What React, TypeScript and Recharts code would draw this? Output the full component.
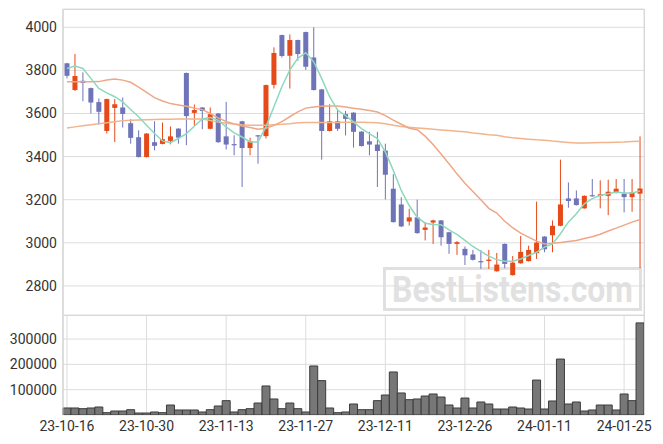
import React from 'react';
import { ComposedChart, Bar, Line, XAxis, YAxis, CartesianGrid } from 'recharts';

const dates = ["23-10-16","23-10-17","23-10-18","23-10-19","23-10-20","23-10-23","23-10-24","23-10-25","23-10-26","23-10-27","23-10-30","23-10-31","23-11-01","23-11-02","23-11-03","23-11-06","23-11-07","23-11-08","23-11-09","23-11-10","23-11-13","23-11-14","23-11-15","23-11-16","23-11-17","23-11-20","23-11-21","23-11-22","23-11-23","23-11-24","23-11-27","23-11-28","23-11-29","23-11-30","23-12-01","23-12-04","23-12-05","23-12-06","23-12-07","23-12-08","23-12-11","23-12-12","23-12-13","23-12-14","23-12-15","23-12-18","23-12-19","23-12-20","23-12-21","23-12-22","23-12-26","23-12-27","23-12-28","24-01-02","24-01-03","24-01-04","24-01-05","24-01-08","24-01-09","24-01-10","24-01-11","24-01-12","24-01-15","24-01-16","24-01-17","24-01-18","24-01-19","24-01-22","24-01-23","24-01-24","24-01-25","24-01-26","24-01-29"];

const opens = [3833,3709,3752,3718,3653,3519,3626,3628,3555,3490,3398,3467,3459,3473,3530,3788,3603,3628,3529,3600,3494,3458,3564,3440,3499,3495,3733,3964,3868,3941,3978,3860,3712,3519,3564,3597,3604,3516,3471,3456,3428,3251,3178,3099,3118,3060,3094,3104,3049,2995,2972,2946,2915,2916,2868,2995,2850,2905,2915,2952,3029,3035,3079,3206,3206,3160,3221,3217,3218,3231,3228,3212,3228];
const highs = [3835,3876,3791,3720,3670,3669,3667,3674,3574,3522,3509,3564,3558,3540,3532,3790,3642,3630,3628,3602,3654,3499,3566,3488,3500,3734,3907,3966,3967,3943,3980,4000,3714,3643,3619,3612,3606,3518,3515,3515,3460,3318,3212,3158,3200,3096,3107,3106,3051,3008,2983,2967,2967,2967,2953,2997,2939,3032,2987,3191,3031,3104,3386,3280,3243,3220,3296,3290,3293,3296,3296,3296,3494];
const lows = [3763,3705,3657,3600,3549,3507,3468,3535,3460,3396,3396,3429,3457,3457,3460,3453,3544,3527,3527,3464,3433,3406,3259,3406,3367,3484,3716,3860,3716,3845,3802,3707,3386,3517,3519,3498,3442,3447,3406,3259,3201,3094,3073,3080,3042,3011,2995,2987,2949,2944,2897,2918,2879,2879,2866,2882,2848,2903,2913,2925,2956,2956,3077,3163,3173,3158,3215,3160,3128,3229,3141,3144,2882];
const closes = [3775,3774,3742,3651,3608,3667,3643,3598,3487,3398,3507,3450,3481,3494,3488,3588,3616,3612,3597,3467,3456,3454,3440,3470,3496,3732,3881,3867,3941,3876,3817,3709,3519,3564,3529,3575,3515,3449,3456,3426,3316,3096,3076,3118,3045,3071,3104,3026,2995,3003,2942,2921,2912,2922,2899,2902,2908,2958,2967,3001,2970,3079,3178,3194,3175,3218,3217,3225,3237,3251,3212,3234,3252];

const ma5 = [3809,3820,3809,3763,3716,3696,3678,3654,3619,3585,3546,3507,3473,3465,3484,3507,3541,3575,3581,3569,3538,3510,3491,3468,3468,3538,3631,3724,3802,3856,3882,3840,3763,3678,3616,3590,3561,3530,3507,3484,3422,3336,3243,3173,3119,3091,3085,3084,3060,3039,3011,2983,2960,2938,2922,2915,2915,2925,2941,2956,2980,2995,3042,3096,3135,3181,3205,3220,3228,3236,3231,3231,3240];
const ma20 = [3747,3747,3747,3747,3748,3755,3760,3755,3745,3722,3698,3674,3658,3646,3640,3634,3625,3618,3600,3580,3563,3552,3542,3535,3527,3532,3545,3562,3585,3608,3625,3630,3634,3635,3635,3630,3624,3620,3614,3607,3590,3569,3550,3532,3525,3495,3456,3412,3367,3320,3276,3238,3200,3160,3138,3100,3070,3045,3026,3008,2995,2998,3001,3006,3011,3020,3028,3040,3055,3068,3082,3096,3108];
const ma60 = [3533,3538,3543,3548,3553,3557,3562,3567,3569,3570,3571,3572,3573,3573,3574,3574,3575,3575,3568,3560,3555,3551,3548,3546,3546,3546,3548,3550,3553,3557,3558,3558,3558,3558,3558,3559,3559,3559,3558,3557,3552,3546,3540,3536,3533,3530,3527,3524,3521,3518,3515,3510,3506,3502,3499,3492,3487,3484,3481,3478,3476,3472,3469,3466,3463,3463,3464,3465,3466,3467,3468,3470,3471];
const volumes = [27700,27700,25000,27700,31600,9200,15800,15800,21000,7900,7900,11900,9200,39500,19800,19800,19800,11900,21000,35600,56700,11900,21000,25000,47400,114700,63300,25000,47400,25000,11900,193700,135800,27700,9200,11900,43500,21000,21000,56700,79000,170000,87000,60600,63300,75000,83000,71000,39500,27700,67000,27700,51400,43500,23700,23700,31600,27700,23700,138000,23700,55400,221000,43500,51400,15800,19800,39500,39500,19800,83000,56700,363800];

const priceTicks = [2800, 3000, 3200, 3400, 3600, 3800, 4000];
const volumeTicks = [100000, 200000, 300000];

const UP = '#e64a19';
const DOWN = '#6f74b8';
const GRID = '#dddddd';
const FONT = 'Roboto, "Noto Sans", sans-serif';

const data = dates.map((d, i) => ({
  date: d,
  open: opens[i],
  high: highs[i],
  low: lows[i],
  close: closes[i],
  ma5: ma5[i],
  ma20: ma20[i],
  ma60: ma60[i],
  volume: volumes[i],
}));

const Candle = (props: any) => {
  const { x, y, width, height, payload } = props;
  if (x == null || y == null || !payload) return null;
  const top = Math.min(y, y + height);
  const h = Math.abs(height);
  const { open, close, high, low } = payload;
  const range = high - low || 1;
  const py = (v: number) => top + ((high - v) / range) * h;
  const up = close >= open;
  const color = up ? UP : DOWN;
  const cx = x + width / 2;
  const bTop = py(Math.max(open, close));
  const bBot = py(Math.min(open, close));
  const bw = 5;
  return (
    <g>
      <line x1={cx} x2={cx} y1={top} y2={top + h} stroke={color} strokeWidth={1} />
      <rect x={cx - bw / 2} y={bTop} width={bw} height={Math.max(1.2, bBot - bTop)} fill={color} />
    </g>
  );
};

const tickStyle = { fontSize: 14, fill: '#333', fontFamily: FONT };

export default function App() {
  const W = 647;
  const mainH = 307;
  const volH = 129;
  return (
    <div style={{ position: 'relative', width: W, height: mainH + volH, fontFamily: FONT }}>
      <svg width={W} height={mainH + volH} style={{ position: 'absolute', left: 0, top: 0 }}>
        <rect x={376.5} y={260.5} width={256} height={41} fill="none" stroke="#d8d8d8" strokeOpacity={0.8} strokeWidth={3} />
        <text x={384} y={294.3} fontSize={36} fontWeight="bold" fill="#dcdcdc" fillOpacity={0.85} textLength={241} lengthAdjust="spacingAndGlyphs" fontFamily={FONT}>BestListens.com</text>
      </svg>
      <div style={{ position: 'relative' }}>
        <ComposedChart width={W} height={mainH} data={data} margin={{ top: 1, right: 11, bottom: 0, left: 0 }} barCategoryGap={0}>
          <CartesianGrid stroke={GRID} />
          <XAxis dataKey="date" interval={9} height={0} tick={false} axisLine={false} tickLine={false} />
          <YAxis domain={[2665, 4085]} ticks={priceTicks} allowDataOverflow width={55} tickLine={false} tickSize={4} tickMargin={2} axisLine={{ stroke: '#cccccc' }} tick={tickStyle} />
          <Bar dataKey={(d: any) => [d.low, d.high]} shape={<Candle />} isAnimationActive={false} />
          <Line type="linear" dataKey="ma60" stroke="#f1b48c" strokeWidth={1.5} dot={false} isAnimationActive={false} />
          <Line type="linear" dataKey="ma20" stroke="#eea787" strokeWidth={1.5} dot={false} isAnimationActive={false} />
          <Line type="linear" dataKey="ma5" stroke="#8ed8bd" strokeWidth={1.5} dot={false} isAnimationActive={false} />
        </ComposedChart>
        <ComposedChart width={W} height={volH} data={data} margin={{ top: 0, right: 11, bottom: 0, left: 0 }} barCategoryGap={0}>
          <CartesianGrid stroke={GRID} />
          <XAxis dataKey="date" interval={9} height={29} tickLine={false} tickSize={4} tickMargin={2} axisLine={false} tick={tickStyle} />
          <YAxis domain={[0, 395000]} ticks={volumeTicks} allowDataOverflow width={55} tickLine={false} tickSize={4} tickMargin={2} axisLine={{ stroke: '#cccccc' }} tick={tickStyle} />
          <Bar dataKey="volume" fill="#777777" stroke="#3c3c3c" strokeWidth={1} isAnimationActive={false} />
        </ComposedChart>
      </div>
      <div style={{ position: 'absolute', left: 55, top: 1, width: 581, height: 305, borderTop: '1px solid #d8d8d8', borderRight: '1px solid #d8d8d8', borderBottom: '1px solid #d8d8d8', pointerEvents: 'none' }} />
      <div style={{ position: 'absolute', left: 55, top: 307, width: 581, height: 100, borderRight: '1px solid #d8d8d8', pointerEvents: 'none' }} />
    </div>
  );
}
